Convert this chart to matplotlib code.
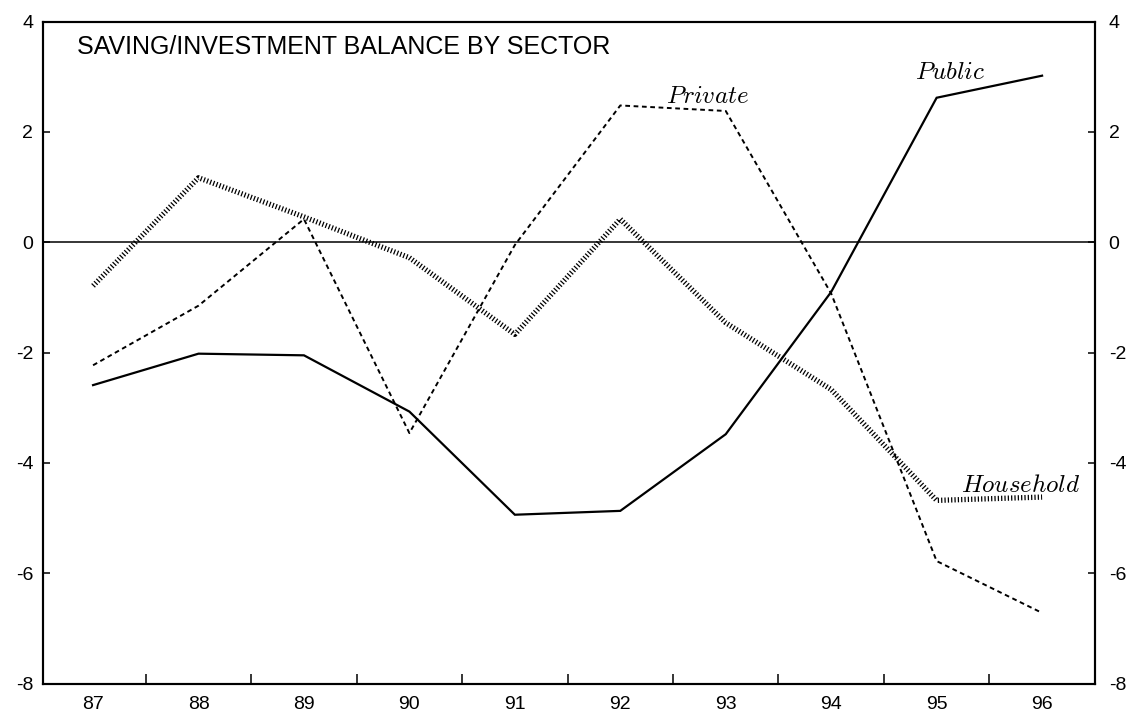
import matplotlib
matplotlib.use("Agg")
import matplotlib.pyplot as plt
from matplotlib.ticker import FixedLocator, NullFormatter

plt.rcParams['axes.unicode_minus'] = False
plt.rcParams['lines.scale_dashes'] = False
plt.rcParams['mathtext.fontset'] = 'cm'

years = [87, 88, 89, 90, 91, 92, 93, 94, 95, 96]
year_labels = ["87", "88", "89", "90", "91", "92", "93", "94", "95", "96"]
public = [-2.59, -2.02, -2.05, -3.07, -4.94, -4.87, -3.48, -0.90, 2.62, 3.02]
private = [-2.23, -1.15, 0.42, -3.46, -0.05, 2.48, 2.38, -0.93, -5.78, -6.72]
household = [-0.79, 1.17, 0.46, -0.28, -1.67, 0.42, -1.46, -2.67, -4.68, -4.62]
y_ticks = [4, 2, 0, -2, -4, -6, -8]
title = "SAVING/INVESTMENT BALANCE BY SECTOR"

fig = plt.figure(figsize=(11.31, 7.21), dpi=100)
ax = fig.add_axes([0.038, 0.052, 0.930, 0.918])

ax.axhline(0, color='black', lw=1.1, zorder=1)
ax.plot(years, public, color='black', lw=1.6, solid_joinstyle='miter')
ax.plot(years, private, color='black', lw=1.4, dashes=(3.4, 2.6))
ax.plot(years, household, color='black', lw=3.8, dashes=(0.9, 1.5))

ax.set_xlim(86.525, 96.5)
ax.set_ylim(-8, 4)

# x: tick marks between years, labels at years
ax.xaxis.set_major_locator(FixedLocator([y + 0.5 for y in years[:-1]]))
ax.xaxis.set_major_formatter(NullFormatter())
ax.xaxis.set_minor_locator(FixedLocator(years))
ax.set_xticks(years, labels=year_labels, minor=True)
ax.tick_params(axis='x', which='major', direction='in', length=7, width=1.1)
ax.tick_params(axis='x', which='minor', length=0, pad=9,
               labelsize=14)

ax.set_yticks(y_ticks)
ax.set_yticklabels([str(v) for v in y_ticks])
ax.tick_params(axis='y', direction='in', length=5, width=1.1,
               labelsize=14, pad=7)

ax2 = ax.twinx()
ax2.set_ylim(-8, 4)
ax2.set_yticks(y_ticks)
ax2.set_yticklabels([str(v) for v in y_ticks])
ax2.tick_params(axis='y', direction='in', length=5, width=1.1,
                labelsize=14, pad=10)

for a in (ax, ax2):
    for s in a.spines.values():
        s.set_linewidth(1.5)
    for lab in a.get_yticklabels() + a.get_xticklabels(minor=True):
        lab.set_fontfamily('Liberation Sans')

ax.text(0.032, 0.962, title, transform=ax.transAxes, ha='left', va='center',
        fontsize=18, family=['Liberation Sans', 'DejaVu Sans'])

lab_kw = dict(fontsize=18, ha='center', va='center')
ax.text(92.83, 2.66, r"$\mathit{Private}$", **lab_kw)
ax.text(95.13, 3.08, r"$\mathit{Public}$", **lab_kw)
ax.text(95.8, -4.40, r"$\mathit{Household}$", **lab_kw)

fig.savefig("out.png", dpi=100)
